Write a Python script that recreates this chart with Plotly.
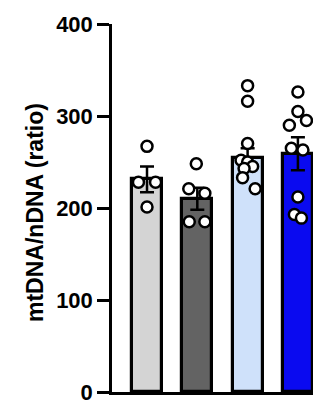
import plotly.graph_objects as go

# ---- data ----
groups = ["G1", "G2", "G3", "G4"]
means = [231, 210, 254, 259]
sems = [14, 12, 11, 18]
points = [
    [267, 228, 228, 201],
    [248, 221, 216, 185, 185],
    [333, 316, 270, 252, 250, 245, 243, 233, 221],
    [326, 305, 295, 290, 265, 263, 212, 193, 189],
]
# horizontal scatter of the dots (category units)
jitter = [
    [0.0, -0.17, 0.17, 0.0],
    [-0.02, -0.17, 0.15, -0.16, 0.15],
    [0.0, 0.0, 0.0, -0.13, 0.0, 0.1, -0.07, -0.1, 0.15],
    [0.0, 0.0, 0.17, -0.17, -0.13, 0.1, 0.0, -0.07, 0.07],
]
bar_colors = ["#d4d4d4", "#636363", "#cfe1fa", "#0a0af0"]
y_ticks = [0, 100, 200, 300, 400]
y_title = "mtDNA/nDNA (ratio)"

FONT = "Liberation Sans, Arial, sans-serif"

fig = go.Figure()
xs = list(range(len(groups)))
fig.add_trace(go.Bar(
    x=xs, y=means, width=0.6,
    marker=dict(color=bar_colors, line=dict(color="black", width=3.2)),
    error_y=dict(type="data", array=sems, visible=True, color="black",
                 thickness=2.5, width=7),
    showlegend=False, hoverinfo="skip",
))
for i, (pts, jit) in enumerate(zip(points, jitter)):
    fig.add_trace(go.Scatter(
        x=[i + j for j in jit], y=pts, mode="markers",
        marker=dict(symbol="circle", size=11, color="white",
                    line=dict(color="black", width=2.5)),
        showlegend=False, hoverinfo="skip", cliponaxis=False,
    ))

fig.update_layout(
    width=321, height=402,
    margin=dict(l=104, r=0, t=16, b=18),
    plot_bgcolor="white", paper_bgcolor="white",
    bargap=0,
    xaxis=dict(range=[-0.696, 3.618], showticklabels=False, ticks="",
               showline=True, linecolor="black", linewidth=2.5,
               showgrid=False, zeroline=False, fixedrange=True),
    yaxis=dict(range=[0, 400], tickvals=y_ticks, ticks="outside",
               ticklen=12, tickwidth=2.5, tickcolor="black",
               showline=True, linecolor="black", linewidth=2.5,
               showgrid=False, zeroline=False,
               tickfont=dict(family=FONT, size=22, color="black", weight="bold")),
    annotations=[dict(
        text="<b>" + y_title + "</b>", textangle=-90,
        xref="paper", yref="paper", x=(27 - 104) / 217, y=(384 - 205) / 368,
        xanchor="center", yanchor="middle", showarrow=False,
        font=dict(family=FONT, size=23, color="black"),
    )],
)

fig.write_html("out.html")
